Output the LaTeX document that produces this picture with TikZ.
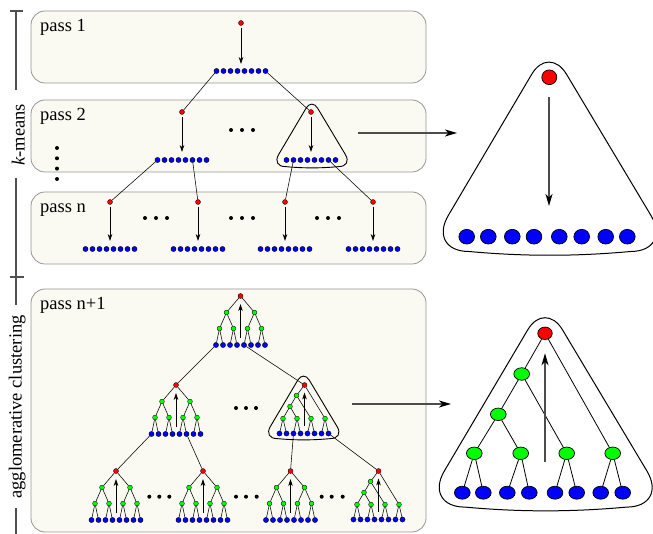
\documentclass[tikz,border=0pt]{standalone}
\usepackage{fontspec}
\setmainfont{Liberation Serif}
\usetikzlibrary{arrows.meta,shapes.geometric,calc}
\definecolor{panelfill}{RGB}{250,250,242}
\definecolor{panelline}{RGB}{150,150,150}
\definecolor{nodered}{RGB}{255,0,0}
\definecolor{nodegreen}{RGB}{0,255,0}
\definecolor{nodeblue}{RGB}{0,0,255}
\definecolor{scaleline}{RGB}{80,80,80}
\tikzset{
  panel/.style={draw=panelline, fill=panelfill, rounded corners=14pt, line width=0.8pt, inner sep=0, minimum width=395pt},
  passlabel/.style={anchor=base west, inner sep=0, font=\fontsize{18.5}{20}\selectfont},
  sidelabel/.style={rotate=90, anchor=base, inner sep=0, font=\fontsize{18.5}{20}\selectfont},
  scalebar/.style={draw=scaleline, line width=1.2pt},
  bs/.style={circle, draw, fill=nodeblue, inner sep=0, minimum size=5.2pt, line width=0.35pt},
  rs/.style={circle, draw, fill=nodered, inner sep=0, minimum size=5pt, line width=0.35pt},
  gs/.style={circle, draw, fill=nodegreen, inner sep=0, minimum size=4.8pt, line width=0.35pt},
  dotn/.style={circle, fill=black, inner sep=0, minimum size=4pt},
  sedge/.style={line width=0.55pt},
  sarrow/.style={line width=0.7pt, -{Stealth[length=7pt,width=4.6pt,inset=2.2pt]}},
  bigarrow/.style={draw=black!70, line width=1.2pt, -{Stealth[length=12pt,width=7pt,inset=3.5pt,black]}},
  bedge/.style={line width=0.8pt},
  tribig/.style={draw, line width=1pt},
  trismall/.style={draw, line width=0.9pt},
  bigredT/.style={ellipse, draw, fill=nodered, inner sep=0, minimum width=15pt, minimum height=14.7pt, line width=0.7pt},
  bigblueT/.style={ellipse, draw, fill=nodeblue, inner sep=0, minimum width=15.7pt, minimum height=14.7pt, line width=0.7pt},
  bigred/.style={ellipse, draw, fill=nodered, inner sep=0, minimum width=14.5pt, minimum height=12.5pt, line width=0.7pt},
  biggreen/.style={ellipse, draw, fill=nodegreen, inner sep=0, minimum width=15.7pt, minimum height=12.5pt, line width=0.7pt},
  bigblue/.style={ellipse, draw, fill=nodeblue, inner sep=0, minimum width=15.7pt, minimum height=13pt, line width=0.7pt},
}
\newcommand\kmrow[3]{%
  \foreach \i in {1,...,8}{\node[bs] (#1-\i) at ({#2-31.5+7*\i},#3) {};}%
}
\newcommand\baltree[3]{%
  \node[rs] (#1r) at (#2,#3) {};
  \node[gs] (#1a1) at ({#2-14},{#3+16.5}) {};
  \node[gs] (#1a2) at ({#2+14},{#3+16.5}) {};
  \foreach \j in {1,...,4}{\node[gs] (#1g\j) at ({#2-35+14*\j},{#3+32.5}) {};}
  \foreach \i in {1,...,8}{\node[bs] (#1l\i) at ({#2-31.5+7*\i},{#3+49}) {};}
  \draw[sedge] (#1r) -- (#1a1) (#1r) -- (#1a2) (#1a1) -- (#1g1) (#1a1) -- (#1g2) (#1a2) -- (#1g3) (#1a2) -- (#1g4);
  \foreach \j in {1,...,4}{\pgfmathtruncatemacro\ka{2*\j-1}\pgfmathtruncatemacro\kb{2*\j}%
    \draw[sedge] (#1g\j) -- (#1l\ka) (#1g\j) -- (#1l\kb);}
  \coordinate (#1s) at (#2,{#3+42});
  \coordinate (#1e) at (#2,{#3+8});
  \draw[sarrow] (#1s) -- (#1e);
}
\newcommand\unbtree[3]{%
  \node[rs] (#1r) at ({#2+0.5},#3) {};
  \node[gs] (#1a) at ({#2-7.5},{#3+10.5}) {};
  \node[gs] (#1b) at ({#2-14},{#3+21.5}) {};
  \foreach \j in {1,...,4}{\node[gs] (#1g\j) at ({#2-35+14*\j},{#3+33.5}) {};}
  \foreach \i in {1,...,8}{\node[bs] (#1l\i) at ({#2-31.5+7*\i},{#3+48.5}) {};}
  \draw[sedge] (#1r) -- (#1a) (#1r) -- (#1g4) (#1a) -- (#1b) (#1a) -- (#1g3) (#1b) -- (#1g1) (#1b) -- (#1g2);
  \foreach \j in {1,...,4}{\pgfmathtruncatemacro\ka{2*\j-1}\pgfmathtruncatemacro\kb{2*\j}%
    \draw[sedge] (#1g\j) -- (#1l\ka) (#1g\j) -- (#1l\kb);}
  \coordinate (#1s) at ({#2+0.5},{#3+40.5});
  \coordinate (#1e) at ({#2+0.5},{#3+7.5});
  \draw[sarrow] (#1s) -- (#1e);
}
% rounded triangle: #1 style, #2 prefix of corner coordinates (A, L, R),
% #3 apex radius, #4 apex control distance, #5 base radius, #6 base control distance, #7 bow dx, #8 bow dy
\newcommand\rtri[8]{%
  \draw[#1] ($(#2A)!#3pt!(#2L)$) -- ($(#2L)!#5pt!(#2A)$)
    .. controls ($(#2L)!#6pt!(#2A)$) and ($(#2L)!#6pt!(#2R)$) .. ($(#2L)!#5pt!(#2R)$)
    .. controls +(#7,#8) and +(-#7,#8) .. ($(#2R)!#5pt!(#2L)$)
    .. controls ($(#2R)!#6pt!(#2L)$) and ($(#2R)!#6pt!(#2A)$) .. ($(#2R)!#5pt!(#2A)$)
    -- ($(#2A)!#3pt!(#2R)$)
    .. controls ($(#2A)!#4pt!(#2R)$) and ($(#2A)!#4pt!(#2L)$) .. ($(#2A)!#3pt!(#2L)$) -- cycle;
}
\begin{document}
\begin{tikzpicture}[x=1pt,y=-1pt]
\useasboundingbox (0,0) rectangle (653,534);
% panels
\node[panel, minimum height=72pt] (p1) at (228.5,47) {};
\node[panel, minimum height=72pt] (p2) at (228.5,136) {};
\node[panel, minimum height=72pt] (p3) at (228.5,228) {};
\node[panel, minimum height=243pt] (p4) at (228.5,410.5) {};
\node[passlabel] (l1) at (40,31.7) {pass 1};
\node[passlabel] (l2) at (40,120.7) {pass 2};
\node[passlabel] (l3) at (40,212.7) {pass n};
\node[passlabel] (l4) at (40,309.7) {pass n+1};
% side scale
\node[sidelabel] (km) at (24.5,135) {\textit{k}-means};
\node[sidelabel] (ag) at (21.5,407) {agglomerative clustering};
\coordinate (s0) at (16,11);
\coordinate (s1) at (16,90);
\coordinate (s2) at (16,178);
\coordinate (s3) at (16,277);
\coordinate (s4) at (16,305);
\coordinate (s5) at (16,508);
\coordinate (s6) at (16,534);
\coordinate (t0a) at (10,11);
\coordinate (t0b) at (23,11);
\coordinate (t1a) at (10,277);
\coordinate (t1b) at (24,277);
\draw[scalebar] (s0) -- (s1) (s2) -- (s3) -- (s4) (s5) -- (s6) (t0a) -- (t0b) (t1a) -- (t1b);
% k-means trees
\node[rs] (k1) at (241,23) {};
\kmrow{k1row}{241}{71}
\node[rs] (k2a) at (182,112) {};
\kmrow{k2arow}{182}{160}
\node[rs] (k2b) at (311,112) {};
\kmrow{k2brow}{311}{160}
\node[rs] (k3a) at (110,202) {};
\kmrow{k3arow}{110}{249}
\node[rs] (k3b) at (198,202) {};
\kmrow{k3brow}{198}{249}
\node[rs] (k3c) at (285,202) {};
\kmrow{k3crow}{285}{249}
\node[rs] (k3d) at (373,202) {};
\kmrow{k3drow}{373}{249}
\coordinate (k1e) at (241,64);
\coordinate (k2ae) at (182,152);
\coordinate (k2be) at (311,152);
\coordinate (k3ae) at (110,241);
\coordinate (k3be) at (198,241);
\coordinate (k3ce) at (285,241);
\coordinate (k3de) at (373,241);
\foreach \n in {k1,k2a,k2b,k3a,k3b,k3c,k3d}{\draw[sarrow, shorten <=2pt] (\n) -- (\n e);}
\draw[sedge] (k1row-1) -- (k2a) (k1row-8) -- (k2b)
  (k2arow-1) -- (k3a) (k2arow-6) -- (k3b) (k2brow-2) -- (k3c) (k2brow-7) -- (k3d);
% k-means dots
\foreach \x [count=\c] in {231,242,253}{\node[dotn] (dA\c) at (\x,130) {};}
\foreach \x [count=\c] in {145,156,167,231,242,253,317,328,339}{\node[dotn] (dB\c) at (\x,218) {};}
\foreach \y [count=\c] in {148,158.3,168.6,179}{\node[dotn] (dV\c) at (57,\y) {};}
% highlight triangle k-means
\coordinate (kmA) at (311.8,98.5);
\coordinate (kmL) at (271.5,166.6);
\coordinate (kmR) at (352.6,166.6);
\rtri{trismall}{km}{11.2}{5}{13.9}{6.2}{18}{1.7}
% agglomerative trees
\baltree{T}{240.5}{296}
\baltree{L}{176}{385}
\unbtree{R}{304}{385}
\baltree{A}{116}{471}
\baltree{B}{203}{471}
\baltree{C}{290.5}{471}
\unbtree{D}{378}{471}
\draw[sedge] (Tl1) -- (Lr) (Tl5) -- (Rr) (Ll1) -- (Ar) (Ll6) -- (Br) (Rl3) -- (Cr) (Rl8) -- (Dr);
\foreach \x [count=\c] in {236,246,256}{\node[dotn] (dC\c) at (\x,408) {};}
\foreach \x [count=\c] in {149.3,159.3,169.3,236,246,256.7,321.7,331.7,342.7}{\node[dotn] (dD\c) at (\x,496.7) {};}
\coordinate (agA) at (303.5,370.5);
\coordinate (agL) at (263.2,438.6);
\coordinate (agR) at (344.3,438.6);
\rtri{trismall}{ag}{11.2}{5}{13.9}{6.2}{18}{1.7}
% big arrows
\coordinate (ba1s) at (358,133);
\coordinate (ba1e) at (457,133);
\coordinate (ba2s) at (352,404);
\coordinate (ba2e) at (451,404);
\draw[bigarrow] (ba1s) -- (ba1e);
\draw[bigarrow] (ba2s) -- (ba2e);
% big top triangle
\coordinate (btA) at (549,45);
\coordinate (btL) at (427,251.5);
\coordinate (btR) at (672.5,251.5);
\rtri{tribig}{bt}{34}{15.2}{42}{18.8}{55}{5}
\node[bigredT] (TR) at (549.3,77.3) {};
\foreach \x [count=\c] in {466.7,488.3,512.3,534,559.3,581.7,605.7,627.3}{\node[bigblueT] (TB\c) at (\x,236.7) {};}
\coordinate (TRs) at (549,97.3);
\coordinate (TRe) at (549,206);
\draw[bigarrow] (TRs) -- (TRe);
% big lower triangle
\coordinate (blA) at (545,300.6);
\coordinate (blL) at (423,507.1);
\coordinate (blR) at (668.5,507.1);
\rtri{tribig}{bl}{34}{15.2}{42}{18.8}{55}{5}
\node[bigred] (BR) at (545,333.3) {};
\node[biggreen] (BA) at (521.7,374) {};
\node[biggreen] (BB) at (498.3,414.3) {};
\foreach \x [count=\c] in {474.3,520.7,566.7,612.7}{\node[biggreen] (BG\c) at (\x,453.3) {};}
\foreach \x [count=\c] in {462.3,483.3,507.3,529.3,555,576.7,600.7,622.7}{\node[bigblue] (BL\c) at (\x,492.7) {};}
\draw[bedge] (BR) -- (BA) (BR) -- (BG4) (BA) -- (BB) (BA) -- (BG3) (BB) -- (BG1) (BB) -- (BG2)
  (BG1) -- (BL1) (BG1) -- (BL2) (BG2) -- (BL3) (BG2) -- (BL4)
  (BG3) -- (BL5) (BG3) -- (BL6) (BG4) -- (BL7) (BG4) -- (BL8);
\coordinate (BRs) at (545,461.7);
\coordinate (BRe) at (545,353.3);
\draw[bigarrow] (BRs) -- (BRe);
\end{tikzpicture}
\end{document}
